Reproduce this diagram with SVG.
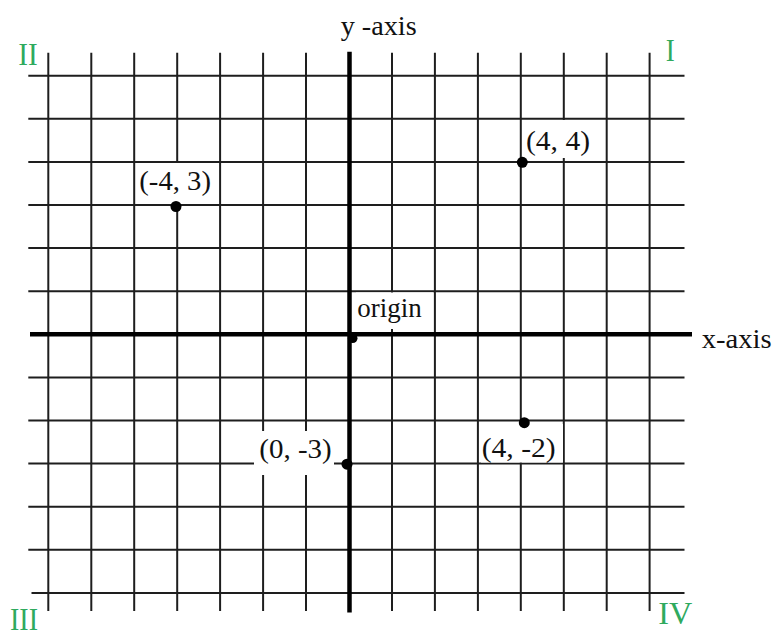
<svg xmlns="http://www.w3.org/2000/svg" width="775" height="637" viewBox="0 0 775 637">
<style>
.g{stroke:#1e1e1e;stroke-width:2;fill:none}
.ax{stroke:#000;stroke-width:4.5;fill:none}
.bg{fill:#fff}
.t{font-family:"Liberation Serif","Times New Roman",serif;font-size:28px;fill:#111}
.q{font-family:"Liberation Serif","Times New Roman",serif;font-size:32px;fill:#2faa5e}
.d{fill:#000}
</style>
<rect width="775" height="637" fill="#fff"/>
<g id="grid">
<path class="g" d="M48.3 52.7V611M91.3 52.7V611M134.2 52.7V611M177.2 52.7V611M220.1 52.7V611M263.1 52.7V611M306.0 52.7V611M392.0 52.7V611M434.9 52.7V611M477.9 52.7V611M520.8 52.7V611M563.8 52.7V611M606.7 52.7V611M649.6 52.7V611"/>
<path class="g" d="M28.3 75.7H684.5M28.3 118.8H684.5M28.3 161.9H684.5M28.3 205H684.5M28.3 248.1H684.5M28.3 291.2H684.5M28.3 377.4H684.5M28.3 420.5H684.5M28.3 463.6H684.5M28.3 506.7H684.5M28.3 549.8H684.5M31.5 592.9H684.5"/>
</g>
<g id="label-backgrounds">
<rect class="bg" x="136" y="163" width="83" height="40.5"/>
<rect class="bg" x="524" y="120" width="81" height="38"/>
<rect class="bg" x="356" y="292.5" width="77" height="36.5"/>
<rect class="bg" x="481" y="424" width="82" height="38.5"/>
<rect class="bg" x="254" y="431" width="80" height="44"/>
</g>
<g id="axes">
<line class="ax" x1="30" y1="334.3" x2="692" y2="334.3"/>
<line class="ax" x1="349.5" y1="51.7" x2="349.5" y2="612.5"/>
<text class="t" x="340.7" y="35" textLength="76" lengthAdjust="spacingAndGlyphs">y -axis</text>
<text class="t" x="701.7" y="348" textLength="70" lengthAdjust="spacingAndGlyphs">x-axis</text>
</g>
<g id="quadrants">
<text class="q" x="18.3" y="64.5" textLength="19.5" lengthAdjust="spacingAndGlyphs">II</text>
<text class="q" x="665.7" y="61" textLength="9" lengthAdjust="spacingAndGlyphs">I</text>
<text class="q" x="10" y="630" textLength="28" lengthAdjust="spacingAndGlyphs">III</text>
<text class="q" x="658.3" y="624" textLength="34" lengthAdjust="spacingAndGlyphs">IV</text>
</g>
<g id="point-m4-3">
<circle class="d" cx="176" cy="206.5" r="5.5"/>
<text class="t" x="139.3" y="190" textLength="71.7" lengthAdjust="spacingAndGlyphs">(-4, 3)</text>
</g>
<g id="point-4-4">
<circle class="d" cx="522.3" cy="162.3" r="5.5"/>
<text class="t" x="526" y="150" textLength="64" lengthAdjust="spacingAndGlyphs">(4, 4)</text>
</g>
<g id="point-origin">
<circle class="d" cx="352.7" cy="338.3" r="4.8"/>
<text class="t" x="357.3" y="316.7" textLength="64.4" lengthAdjust="spacingAndGlyphs">origin</text>
</g>
<g id="point-4-m2">
<circle class="d" cx="524.3" cy="422.7" r="5.5"/>
<text class="t" x="481.7" y="457" textLength="74" lengthAdjust="spacingAndGlyphs">(4, -2)</text>
</g>
<g id="point-0-m3">
<circle class="d" cx="347" cy="464.2" r="5.5"/>
<text class="t" x="259.3" y="458" textLength="72.4" lengthAdjust="spacingAndGlyphs">(0, -3)</text>
</g>
</svg>
